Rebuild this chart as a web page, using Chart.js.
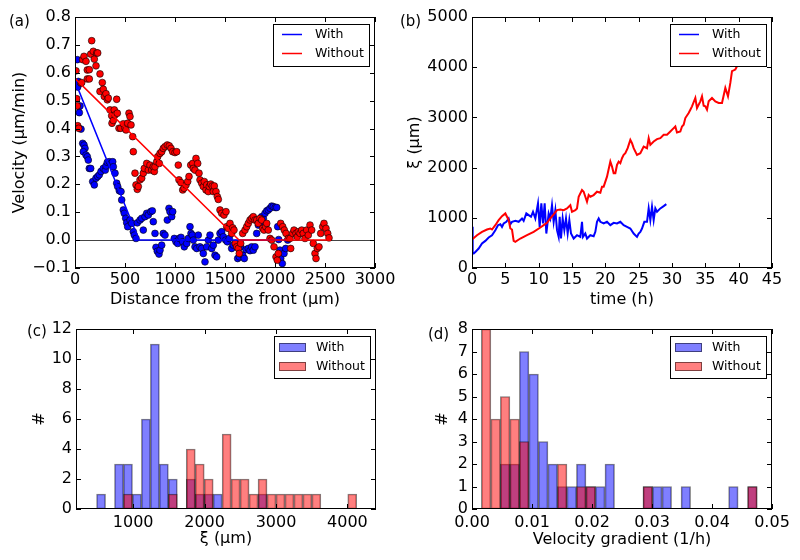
<!DOCTYPE html>
<html>
<head>
<meta charset="utf-8">
<script src="https://cdn.jsdelivr.net/npm/chart.js@4.4.0/dist/chart.umd.min.js"></script>
<style>
  body { margin: 0; background: #fff; }
  #fig { position: relative; width: 800px; height: 560px; }
  canvas { position: absolute; }
</style>
</head>
<body>
<div id="fig">
  <canvas id="pa" width="400" height="315" style="left:0;top:0"></canvas>
  <canvas id="pb" width="400" height="315" style="left:400px;top:0"></canvas>
  <canvas id="pc" width="400" height="255" style="left:0;top:305px"></canvas>
  <canvas id="pd" width="400" height="255" style="left:400px;top:305px"></canvas>
</div>
<script>
// (a) velocity vs distance from the front
const withDist = [23,17,27,33,40,50,43,60,77,90,100,83,110,123,133,143,157,177,193,210,227,243,260,283,303,310,323,343,360,377,383,400,417,427,443,460,467,483,493,507,517,527,550,567,583,593,610,623,650,667,683,700,717,733,757,773,783,800,810,823,840,850,867,883,900,923,940,950,967,977,993,1010,1027,1043,1060,1077,1093,1117,1133,1150,1160,1173,1183,1200,1217,1233,1250,1267,1283,1300,1317,1333,1350,1367,1383,1400,1417,1433,1450,1467,1483,1507,1523,1543,1567,1583,1610,1627,1643,1657,1677,1693,1710,1733,1750,1767,1783,1800,1817,1833,1850,1867,1883,1900,1917,1933,1950,1967,1983,2003,2017,2027,2037,2050,2057,2073,2090,2107,2127];
const withVel = [0.647,0.557,0.549,0.569,0.479,0.481,0.457,0.398,0.347,0.341,0.329,0.317,0.305,0.299,0.287,0.257,0.257,0.210,0.198,0.222,0.228,0.234,0.246,0.257,0.251,0.266,0.279,0.281,0.275,0.281,0.263,0.240,0.204,0.192,0.177,0.174,0.144,0.108,0.096,0.078,0.062,0.048,0.072,0.060,0.030,0.018,0.006,0.062,0.072,0.078,0.036,0.084,0.096,0.090,0.102,0.105,0.066,0.024,-0.026,-0.040,-0.050,-0.036,-0.018,0.024,0.018,0.072,0.114,0.102,0.084,0.102,0.006,-0.006,-0.012,0.006,0.010,-0.006,-0.024,-0.012,0.006,0.048,0.024,0.018,0.000,-0.024,-0.030,0.018,-0.024,-0.030,-0.048,-0.078,-0.024,0.000,0.018,-0.030,-0.018,-0.054,-0.060,0.000,0.024,0.030,0.012,0.000,-0.006,0.006,-0.030,-0.018,-0.012,-0.066,-0.060,-0.024,-0.054,-0.066,-0.034,-0.030,-0.038,-0.024,-0.036,-0.024,0.024,0.054,0.062,0.084,0.078,0.096,0.105,0.108,0.114,0.122,0.120,0.117,0.117,0.048,0.002,-0.036,-0.066,-0.084,-0.048,-0.030,0.000];
const withoutDist = [10,17,23,27,37,60,67,77,90,110,123,123,143,143,167,157,183,193,217,227,210,250,250,273,283,293,310,323,333,350,367,370,383,393,400,417,423,440,457,483,500,510,527,540,550,560,577,583,600,610,623,633,650,667,683,693,717,733,750,767,783,793,800,817,827,843,850,867,883,900,923,943,960,977,1000,1017,1033,1040,1060,1077,1090,1110,1127,1140,1157,1177,1183,1200,1210,1227,1240,1250,1267,1283,1293,1310,1317,1333,1343,1357,1373,1383,1393,1410,1423,1433,1450,1467,1490,1510,1517,1533,1550,1567,1577,1590,1603,1617,1633,1643,1657,1677,1700,1717,1733,1750,1767,1783,1800,1817,1833,1850,1867,1877,1890,1907,1917,1933,1950,1967,1990,2010,2023,2033,2057,2077,2093,2110,2133,2150,2157,2177,2190,2210,2223,2233,2250,2267,2283,2300,2317,2333,2350,2367,2383,2400,2410,2423,2440,2457,2477,2490,2510,2527,2540];
const withoutVel = [0.607,0.507,0.481,0.410,0.401,0.563,0.565,0.647,0.659,0.641,0.610,0.578,0.611,0.578,0.715,0.667,0.677,0.649,0.671,0.671,0.625,0.596,0.533,0.565,0.541,0.515,0.525,0.503,0.509,0.467,0.446,0.419,0.429,0.467,0.449,0.505,0.455,0.401,0.401,0.417,0.401,0.395,0.419,0.455,0.443,0.413,0.371,0.317,0.240,0.198,0.182,0.192,0.216,0.222,0.240,0.257,0.275,0.251,0.269,0.251,0.263,0.246,0.263,0.281,0.299,0.275,0.311,0.317,0.329,0.335,0.341,0.338,0.329,0.317,0.314,0.317,0.269,0.216,0.206,0.180,0.186,0.198,0.210,0.228,0.269,0.275,0.257,0.251,0.293,0.275,0.240,0.216,0.204,0.192,0.210,0.180,0.198,0.174,0.192,0.201,0.194,0.174,0.194,0.174,0.156,0.146,0.108,0.096,0.090,0.102,0.048,0.042,0.060,0.024,0.044,0.036,-0.012,-0.024,-0.030,-0.048,-0.012,0.024,0.036,0.048,0.060,0.072,0.078,0.084,0.072,0.072,0.060,0.078,0.072,0.042,0.036,0.048,0.060,0.036,0.006,0.000,-0.024,-0.060,-0.072,-0.048,0.060,0.048,0.036,0.024,0.006,0.006,-0.030,0.024,0.036,0.024,0.012,0.030,0.024,0.036,0.024,0.006,0.036,0.018,0.054,0.036,-0.012,-0.048,-0.066,-0.030,-0.024,0.024,0.048,0.060,0.042,0.024,0.008];
const withFitX = [0, 640, 2100];
const withFitY = [0.57, 0, 0];
const withoutFitX = [0, 1640, 2560];
const withoutFitY = [0.58, 0, 0];

// (b) xi vs time
const withTime = [0,0.1,0.25,0.5,1,1.5,2,2.5,3,3.5,3.9,4.25,4.5,4.75,5.15,5.5,5.75,6,6.5,7,7.5,7.75,8.15,8.5,8.85,9.15,9.5,9.9,10.15,10.4,10.65,10.9,11.15,11.5,11.75,12,12.25,12.5,12.75,13,13.15,13.35,13.6,13.85,14.1,14.35,14.6,14.85,15.25,15.75,16.25,16.5,16.65,17,17.25,17.75,18.25,18.5,18.75,19,19.25,19.75,20.25,20.75,21.25,21.75,22.25,22.75,23.25,23.75,24.25,24.75,25,25.25,25.5,25.85,26.25,26.5,26.75,27,27.25,27.5,27.75,28.25,28.75,29.15];
const withXi = [820,287,287,320,387,487,540,607,653,753,853,873,820,887,920,987,873,920,940,920,987,940,1087,1053,1020,1120,987,1287,820,1287,887,1287,687,1087,987,1253,920,1153,753,620,1020,587,987,753,987,687,953,687,587,653,620,920,620,687,587,653,633,720,920,987,920,887,920,853,900,887,920,853,820,787,687,620,687,720,787,920,920,1187,953,1220,953,1187,1120,1187,1233,1273];
const withoutTime = [0,0.75,1.5,2.25,2.75,3,3.5,4,4.5,5,5.25,5.5,5.75,6,6.25,6.5,7.25,8.25,9.25,10.25,10.75,11.25,11.75,12.25,12.75,13.25,13.75,14.25,14.75,15,15.5,15.75,16,16.5,16.75,17,17.25,17.5,17.75,18.25,18.75,19.25,19.5,19.75,20.25,20.75,21,21.25,21.5,21.75,22,22.25,22.5,22.75,23,23.35,23.75,24,24.25,24.75,25.25,25.75,26.25,26.5,26.75,27.25,27.75,28.25,28.75,29.25,29.75,30.25,30.5,30.75,31.25,31.5,31.75,32,32.5,32.75,33,33.5,33.75,34.25,34.5,34.75,35,35.25,35.5,36,36.5,37,37.5,38,38.4,38.75,39,39.5,39.75,40];
const withoutXi = [567,653,720,767,787,767,853,953,1033,1087,1020,953,787,767,540,520,587,653,720,807,853,900,987,1067,1153,1167,1153,1187,1253,1120,1153,1187,1420,1553,1520,1420,1320,1453,1420,1453,1520,1500,1620,1620,1820,2120,2020,1887,1887,2053,2120,2087,2187,2253,2287,2387,2553,2487,2387,2253,2287,2420,2387,2587,2453,2520,2567,2587,2653,2653,2720,2787,2820,2700,2720,2820,2853,2987,3087,3153,3220,3387,3187,3320,3420,3233,3220,3153,3320,3387,3320,3287,3287,3587,3420,3687,3920,3953,4020,4053];

// (c) histogram of xi
const xiBinStart = 488;
const xiBinWidth = 125.6;
const xiWithCounts = [1,0,3,3,1,6,11,3,2,0,2,1,1,1,0,0,0,0,1,0,0,0,0,0,0,0,0,0,0];
const xiWithoutCounts = [0,0,0,1,0,0,0,0,1,0,4,3,2,0,5,2,2,1,2,1,1,1,1,1,1,0,0,0,1];
const xiTicks = [1000, 2000, 3000, 4000];

// (d) histogram of velocity gradient
const gradBinStart = 0.00156;
const gradBinWidth = 0.001585;
const gradWithCounts = [0,0,2,2,7,6,3,2,1,1,2,1,1,2,0,0,0,1,1,1,0,1,0,0,0,0,1,0,1];
const gradWithoutCounts = [8,4,5,4,3,0,0,0,2,0,1,1,0,0,0,0,0,1,0,0,0,0,0,0,0,0,0,0,1];

const FONT = 'DejaVu Sans';
Chart.defaults.font.family = FONT;
Chart.defaults.font.size = 16;
Chart.defaults.color = '#000';
Chart.defaults.animation = false;

const BLUE = '#0000ff', RED = '#ff0000';
const BLUE_A = 'rgba(0,0,255,0.5)', RED_A = 'rgba(255,0,0,0.5)';
const legendLines = [{ label: 'With', color: BLUE }, { label: 'Without', color: RED }];
const legendPatches = [{ label: 'With', color: BLUE_A }, { label: 'Without', color: RED_A }];

const pts = (xs, ys) => xs.map((x, i) => ({ x: x, y: ys[i] }));
const bins = (start, width, counts) => counts.map((c, i) => ({ x: start + width * (i + 0.5), y: c }));
const minus = s => s.replace('-', '\u2212');

// frame, inward ticks, zero line, legend box and panel letter
const framePlugin = {
  id: 'frame',
  beforeDatasetsDraw(chart, args, opts) {
    if (!opts.zeroLine) return;
    const { ctx, chartArea: a, scales: { y } } = chart;
    const py = Math.round(y.getPixelForValue(0)) + 0.5;
    ctx.save();
    ctx.strokeStyle = '#444';
    ctx.lineWidth = 1;
    ctx.beginPath();
    ctx.moveTo(a.left, py);
    ctx.lineTo(a.right, py);
    ctx.stroke();
    ctx.restore();
  },
  afterDatasetsDraw(chart, args, opts) {
    const { ctx, chartArea: a, scales: { x, y } } = chart;
    ctx.save();
    ctx.strokeStyle = '#000';
    ctx.lineWidth = 1;
    ctx.strokeRect(Math.round(a.left) + 0.5, Math.round(a.top) + 0.5, Math.round(a.width) - 1, Math.round(a.height) - 1);
    ctx.beginPath();
    x.ticks.forEach(t => {
      const px = Math.round(x.getPixelForValue(t.value)) + 0.5;
      ctx.moveTo(px, a.bottom); ctx.lineTo(px, a.bottom - 5);
      ctx.moveTo(px, a.top); ctx.lineTo(px, a.top + 5);
    });
    y.ticks.forEach(t => {
      const py = Math.round(y.getPixelForValue(t.value)) + 0.5;
      ctx.moveTo(a.left, py); ctx.lineTo(a.left + 5, py);
      ctx.moveTo(a.right, py); ctx.lineTo(a.right - 5, py);
    });
    ctx.stroke();

    // legend
    const w = 96, h = 42, L = Math.round(a.right - 6 - w), T = Math.round(a.top + 7);
    ctx.fillStyle = '#fff';
    ctx.fillRect(L, T, w, h);
    ctx.strokeRect(L + 0.5, T + 0.5, w, h);
    ctx.font = '12.5px "' + FONT + '"';
    ctx.textBaseline = 'middle';
    opts.legend.forEach((it, i) => {
      const cy = T + (opts.patches ? 11.5 : 10.5) + i * 19;
      if (opts.patches) {
        ctx.fillStyle = it.color;
        ctx.fillRect(L + 5, cy - 4.5, 27, 9);
        ctx.strokeStyle = 'rgba(0,0,0,0.5)';
        ctx.strokeRect(L + 5.5, cy - 4, 26, 8);
      } else {
        ctx.strokeStyle = it.color;
        ctx.lineWidth = 1.5;
        ctx.beginPath();
        ctx.moveTo(L + 9, cy); ctx.lineTo(L + 29, cy);
        ctx.stroke();
      }
      ctx.fillStyle = '#000';
      ctx.fillText(it.label, L + 42, cy);
    });

    // panel letter
    ctx.font = '15px "' + FONT + '"';
    ctx.textBaseline = 'middle';
    ctx.fillText(opts.letter, opts.letterX, opts.letterY);
    ctx.restore();
  }
};

function makeScales(p) {
  return {
    x: {
      type: 'linear', min: p.xMin, max: p.xMax, offset: false,
      grid: { display: false, drawTicks: false }, border: { display: false },
      ticks: { stepSize: p.xStep, autoSkip: false, maxRotation: 0, padding: p.xTickPad, callback: p.xFmt },
      afterBuildTicks: p.xTicks ? s => { s.ticks = p.xTicks.map(v => ({ value: v })); } : undefined,
      afterFit: s => { s.height = p.xH; },
      title: { display: true, text: p.xTitle, padding: { top: 0, bottom: p.xTitlePad } }
    },
    y: {
      type: 'linear', min: p.yMin, max: p.yMax,
      grid: { display: false, drawTicks: false }, border: { display: false },
      ticks: { stepSize: p.yStep, autoSkip: false, padding: 4, callback: p.yFmt },
      afterFit: s => { s.width = p.yW; },
      title: { display: true, text: p.yTitle, padding: { top: p.yTitlePad, bottom: 0 } }
    }
  };
}

// (a)
new Chart(document.getElementById('pa'), {
  type: 'scatter',
  data: {
    datasets: [
      { label: 'Without fit', data: pts(withoutFitX, withoutFitY), showLine: true, borderColor: RED, borderWidth: 1.5, pointRadius: 0, order: 0 },
      { label: 'With fit', data: pts(withFitX, withFitY), showLine: true, borderColor: BLUE, borderWidth: 1.5, pointRadius: 0, order: 1 },
      { label: 'Without', data: pts(withoutDist, withoutVel), backgroundColor: RED, borderColor: 'rgba(0,0,0,0.75)', borderWidth: 0.8, pointRadius: 3.4, order: 2 },
      { label: 'With', data: pts(withDist, withVel), backgroundColor: BLUE, borderColor: 'rgba(0,0,0,0.75)', borderWidth: 0.8, pointRadius: 3.4, order: 3 }
    ]
  },
  options: {
    responsive: false,
    devicePixelRatio: 1,
    layout: { padding: { top: 17, right: 25, left: 0, bottom: 0 } },
    plugins: {
      legend: { display: false }, tooltip: { enabled: false },
      frame: { legend: legendLines, letter: '(a)', letterX: 9, letterY: 22, zeroLine: true }
    },
    scales: makeScales({
      xMin: 0, xMax: 3000, xStep: 500, xFmt: v => String(v), xH: 47, xTickPad: 2,
      xTitle: 'Distance from the front (\u03bcm)', xTitlePad: 6,
      yMin: -0.1, yMax: 0.8, yStep: 0.1, yFmt: v => minus(v.toFixed(1)), yW: 75,
      yTitle: 'Velocity (\u03bcm/min)', yTitlePad: 10
    })
  },
  plugins: [framePlugin]
});

// (b)
new Chart(document.getElementById('pb'), {
  type: 'scatter',
  data: {
    datasets: [
      { label: 'Without', data: pts(withoutTime, withoutXi), showLine: true, borderColor: RED, borderWidth: 2, pointRadius: 0, order: 0 },
      { label: 'With', data: pts(withTime, withXi), showLine: true, borderColor: BLUE, borderWidth: 2, pointRadius: 0, order: 1 }
    ]
  },
  options: {
    responsive: false,
    devicePixelRatio: 1,
    layout: { padding: { top: 17, right: 28, left: 0, bottom: 0 } },
    plugins: {
      legend: { display: false }, tooltip: { enabled: false },
      frame: { legend: legendLines, letter: '(b)', letterX: 0, letterY: 22 }
    },
    scales: makeScales({
      xMin: 0, xMax: 45, xStep: 5, xFmt: v => String(v), xH: 47, xTickPad: 2,
      xTitle: 'time (h)', xTitlePad: 6,
      yMin: 0, yMax: 5000, yStep: 1000, yFmt: v => String(v), yW: 72,
      yTitle: '\u03be (\u03bcm)', yTitlePad: 5
    })
  },
  plugins: [framePlugin]
});

function histOptions(p) {
  return {
    responsive: false,
    devicePixelRatio: 1,
    layout: { padding: { top: 24, right: p.right, left: 0, bottom: 0 } },
    plugins: {
      legend: { display: false }, tooltip: { enabled: false },
      frame: { legend: legendPatches, patches: true, letter: p.letter, letterX: p.letterX, letterY: p.letterY }
    },
    scales: makeScales(p)
  };
}
const barBorder = ctx => (ctx.raw && ctx.raw.y > 0 ? 1 : 0);

// (c)
new Chart(document.getElementById('pc'), {
  type: 'bar',
  data: {
    datasets: [
      { label: 'Without', data: bins(xiBinStart, xiBinWidth, xiWithoutCounts), backgroundColor: RED_A, borderColor: 'rgba(0,0,0,0.5)', borderWidth: barBorder, borderSkipped: false, grouped: false, barPercentage: 1, categoryPercentage: 1, order: 0 },
      { label: 'With', data: bins(xiBinStart, xiBinWidth, xiWithCounts), backgroundColor: BLUE_A, borderColor: 'rgba(0,0,0,0.5)', borderWidth: barBorder, borderSkipped: false, grouped: false, barPercentage: 1, categoryPercentage: 1, order: 1 }
    ]
  },
  options: histOptions({
    right: 24, letter: '(c)', letterX: 27, letterY: 27,
    xMin: 200, xMax: 4400, xTicks: xiTicks, xFmt: v => String(v), xH: 51, xTickPad: 4,
    xTitle: '\u03be (\u03bcm)', xTitlePad: 12,
    yMin: 0, yMax: 12, yStep: 2, yFmt: v => String(v), yW: 76,
    yTitle: '#', yTitlePad: 30
  }),
  plugins: [framePlugin]
});

// (d)
new Chart(document.getElementById('pd'), {
  type: 'bar',
  data: {
    datasets: [
      { label: 'Without', data: bins(gradBinStart, gradBinWidth, gradWithoutCounts), backgroundColor: RED_A, borderColor: 'rgba(0,0,0,0.5)', borderWidth: barBorder, borderSkipped: false, grouped: false, barPercentage: 1, categoryPercentage: 1, order: 0 },
      { label: 'With', data: bins(gradBinStart, gradBinWidth, gradWithCounts), backgroundColor: BLUE_A, borderColor: 'rgba(0,0,0,0.5)', borderWidth: barBorder, borderSkipped: false, grouped: false, barPercentage: 1, categoryPercentage: 1, order: 1 }
    ]
  },
  options: histOptions({
    right: 28, letter: '(d)', letterX: 28, letterY: 30,
    xMin: 0, xMax: 0.05, xStep: 0.01, xFmt: v => v.toFixed(2), xH: 51, xTickPad: 4,
    xTitle: 'Velocity gradient (1/h)', xTitlePad: 11,
    yMin: 0, yMax: 8, yStep: 1, yFmt: v => String(v), yW: 72,
    yTitle: '#', yTitlePad: 33
  }),
  plugins: [framePlugin]
});
</script>
</body>
</html>
